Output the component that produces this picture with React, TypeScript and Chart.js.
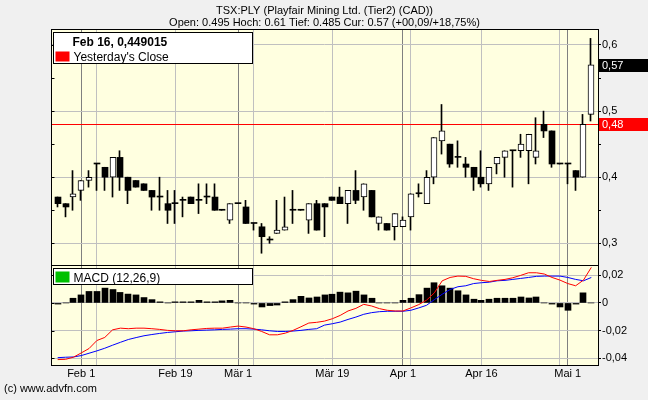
import React, { useEffect, useRef } from 'react';
import { Chart, registerables } from 'chart.js';

Chart.register(...registerables);

const FONT = '"Liberation Sans", Arial, Helvetica, sans-serif';

// Daily sessions from Mon 29 Jan to Fri 4 May 2007 (index 0 = Jan 29, Good Friday closed)
const opens = [
  0.37, 0.36, 0.37, 0.38, 0.395, 0.42, 0.415, 0.4, 0.43, 0.4,
  0.395, 0.39, 0.38, 0.37, 0.36, 0.36, 0.365, 0.37, 0.365, 0.37,
  0.37, 0.35, 0.335, 0.36, 0.355, 0.33, 0.325, 0.305, 0.315, 0.32,
  0.35, 0.35, 0.335, 0.36, 0.36, 0.37, 0.37, 0.36, 0.38, 0.37,
  0.38, 0.33, 0.33, 0.325, 0.325, 0.34, 0.375, 0.36, 0.4, 0.455,
  0.45, 0.43, 0.42, 0.415, 0.4, 0.39, 0.42, 0.43, 0.44, 0.44,
  0.44, 0.43, 0.48, 0.47, 0.42, 0.42, 0.41, 0.4, 0.495,
];
const highs = [
  0.37, 0.36, 0.41, 0.395, 0.41, 0.42, 0.415, 0.43, 0.44, 0.4,
  0.395, 0.39, 0.38, 0.4, 0.38, 0.38, 0.37, 0.37, 0.39, 0.39,
  0.39, 0.35, 0.36, 0.36, 0.365, 0.33, 0.33, 0.31, 0.365, 0.37,
  0.38, 0.35, 0.36, 0.365, 0.36, 0.37, 0.385, 0.38, 0.41, 0.39,
  0.38, 0.34, 0.33, 0.345, 0.34, 0.375, 0.39, 0.41, 0.46, 0.51,
  0.45, 0.455, 0.43, 0.415, 0.44, 0.415, 0.43, 0.44, 0.44, 0.465,
  0.465, 0.49, 0.5, 0.47, 0.42, 0.42, 0.41, 0.495, 0.61,
];
const lows = [
  0.355, 0.34, 0.35, 0.365, 0.385, 0.38, 0.38, 0.37, 0.38, 0.36,
  0.385, 0.38, 0.35, 0.35, 0.33, 0.33, 0.34, 0.36, 0.345, 0.36,
  0.35, 0.35, 0.33, 0.36, 0.33, 0.32, 0.285, 0.3, 0.315, 0.32,
  0.33, 0.35, 0.315, 0.32, 0.31, 0.365, 0.36, 0.33, 0.36, 0.35,
  0.34, 0.32, 0.32, 0.305, 0.325, 0.32, 0.37, 0.36, 0.39, 0.435,
  0.415, 0.415, 0.4, 0.38, 0.385, 0.38, 0.405, 0.4, 0.385, 0.43,
  0.39, 0.42, 0.46, 0.415, 0.42, 0.39, 0.38, 0.4, 0.485,
];
const closes = [
  0.36, 0.355, 0.375, 0.395, 0.4, 0.42, 0.4, 0.43, 0.4, 0.38,
  0.385, 0.38, 0.37, 0.37, 0.35, 0.36, 0.365, 0.36, 0.365, 0.37,
  0.35, 0.35, 0.36, 0.36, 0.33, 0.33, 0.31, 0.305, 0.32, 0.325,
  0.35, 0.35, 0.36, 0.32, 0.355, 0.365, 0.36, 0.38, 0.365, 0.39,
  0.34, 0.34, 0.32, 0.345, 0.335, 0.375, 0.375, 0.4, 0.46, 0.47,
  0.42, 0.43, 0.415, 0.4, 0.39, 0.415, 0.43, 0.44, 0.44, 0.45,
  0.465, 0.44, 0.47, 0.42, 0.42, 0.42, 0.4, 0.48, 0.57,
];

// MACD (12,26,9): MACD line, signal line and histogram
const macdValues = [
  -0.0409, -0.0407, -0.0392, -0.0361, -0.0329, -0.0271, -0.0249, -0.0194, -0.0182, -0.0186,
  -0.0182, -0.0182, -0.0186, -0.0191, -0.0198, -0.0201, -0.0201, -0.0194, -0.0189, -0.0184,
  -0.0182, -0.0182, -0.0174, -0.0167, -0.0174, -0.0186, -0.0206, -0.023, -0.023, -0.0218,
  -0.0198, -0.0172, -0.0145, -0.014, -0.0131, -0.0114, -0.009, -0.0058, -0.0039, -0.001,
  -0.0022, -0.0041, -0.0053, -0.0058, -0.0058, -0.0036, -0.0012, 0.002, 0.0073, 0.016,
  0.0184, 0.0194, 0.0192, 0.0175, 0.0163, 0.0155, 0.0163, 0.017, 0.0182, 0.0199,
  0.0218, 0.0218, 0.0209, 0.0184, 0.0165, 0.014, 0.0124, 0.0165, 0.0257,
];
const signalValues = [
  -0.0395, -0.0392, -0.039, -0.038, -0.0363, -0.0346, -0.0327, -0.0305, -0.0284, -0.0264,
  -0.025, -0.0237, -0.0228, -0.022, -0.0213, -0.0208, -0.0203, -0.0201, -0.0198, -0.0196,
  -0.0194, -0.0191, -0.0189, -0.0186, -0.0186, -0.0189, -0.0194, -0.0201, -0.0206, -0.0206,
  -0.0203, -0.0198, -0.0191, -0.0186, -0.016, -0.015, -0.0138, -0.0119, -0.0102, -0.0082,
  -0.007, -0.0063, -0.006, -0.006, -0.006, -0.0053, -0.0036, -0.0017, 0.0024, 0.0063,
  0.0097, 0.0117, 0.0124, 0.014, 0.0146, 0.015, 0.016, 0.0163, 0.017, 0.0177,
  0.0184, 0.0192, 0.0194, 0.0194, 0.0194, 0.0184, 0.017, 0.016, 0.0184,
];
const histValues = [
  -0.0008, 0, 0.0034, 0.0058, 0.0083, 0.0083, 0.0107, 0.0097, 0.0076, 0.0064,
  0.0058, 0.0039, 0.0024, 0.0008, 0, 0.0008, 0.0008, 0.0008, 0.0019, 0.0008,
  0.0008, 0.0015, 0.0019, 0, 0, -0.0008, -0.0029, -0.0019, -0.0015, 0.0008,
  0.0024, 0.0048, 0.0036, 0.0043, 0.0058, 0.0063, 0.0078, 0.0073, 0.0085, 0.0058,
  0.0034, 0, 0, 0, 0.0019, 0.0034, 0.006, 0.0107, 0.0146, 0.0124,
  0.0107, 0.0088, 0.0058, 0.0027, 0.0019, 0.0027, 0.0034, 0.0034, 0.0034, 0.0043,
  0.0036, 0.0043, 0, -0.0008, -0.0029, -0.0053, -0.0008, 0.0073, 0,
];

const yesterdayClose = 0.48;
const lastPrice = 0.57;

// Date axis: session index of each tick, its label, and which ones open a month
const dateTickIndex = [3, 5, 15, 23, 25, 35, 44, 45, 54, 64, 65];
const dateTickLabels = ['Feb 1', '', 'Feb 19', 'Mär 1', '', 'Mär 19', 'Apr 1', '', 'Apr 16', '', 'Mai 1'];
const monthStartIndex = [3, 23, 44, 65];

const titleText = 'TSX:PLY (Playfair Mining Ltd. (Tier2) (CAD))';
const quoteText = 'Open: 0.495 Hoch: 0.61 Tief: 0.485 Cur: 0.57 (+00,09/+18,75%)';
const cursorText = 'Feb 16, 0,449015';
const closeLegend = "Yesterday's Close";
const macdLegend = 'MACD (12,26,9)';
const copyrightText = '(c) www.advfn.com';

const fmt = (v: number, d: number) => v.toFixed(d).replace('.', ',');
const near = (v: number, step: number) => Math.abs(v / step - Math.round(v / step)) < 1e-6;

const chrome = {
  id: 'chrome',
  // keep candle bodies and wicks on whole pixels so they stay crisp
  afterDatasetsUpdate(chart: any) {
    chart.data.datasets.forEach((ds: any, di: number) => {
      if (ds.type !== 'bar') return;
      const meta = chart.getDatasetMeta(di);
      meta.data.forEach((el: any) => {
        const px = Math.round(el.x);
        el.x = ds.barThickness === 1 ? px - 0.5 : px;
      });
    });
  },
  beforeDraw(chart: any) {
    const { ctx, chartArea: a, width, height } = chart;
    ctx.save();
    ctx.fillStyle = '#f0f0f0';
    ctx.fillRect(0, 0, width, height);
    ctx.fillStyle = '#ffffe0';
    ctx.fillRect(a.left, a.top, a.right - a.left, a.bottom - a.top);
    ctx.restore();
  },
  beforeDatasetsDraw(chart: any) {
    const { ctx, chartArea: a } = chart;
    const y = Math.round(chart.scales.y.getPixelForValue(yesterdayClose)) + 0.5;
    ctx.save();
    ctx.strokeStyle = '#ff0000';
    ctx.lineWidth = 1;
    ctx.beginPath();
    ctx.moveTo(a.left, y);
    ctx.lineTo(a.right, y);
    ctx.stroke();
    ctx.restore();
  },
  afterDraw(chart: any) {
    const { ctx, chartArea: a } = chart;
    const py = chart.scales.y;
    const my = chart.scales.macd;
    const L = Math.round(a.left) + 0.5;
    const R = Math.round(a.right) + 0.5;
    const T = Math.round(py.top) + 0.5;
    const M = Math.round(py.bottom) + 0.5;
    const B = Math.round(my.bottom) + 0.5;
    ctx.save();
    ctx.strokeStyle = '#000';
    ctx.lineWidth = 1;
    ctx.strokeRect(L, T, R - L, M - T);
    ctx.strokeRect(L, M, R - L, B - M);

    // short inward ticks on the left frame
    ctx.beginPath();
    for (const s of [py, my]) {
      for (const t of s.ticks) {
        const yy = Math.round(s.getPixelForValue(t.value)) + 0.5;
        ctx.moveTo(L, yy);
        ctx.lineTo(L + 3, yy);
      }
    }
    ctx.stroke();

    // heading
    const cx = (a.left + a.right) / 2;
    ctx.fillStyle = '#000';
    ctx.font = `11px ${FONT}`;
    ctx.textAlign = 'center';
    ctx.textBaseline = 'alphabetic';
    ctx.fillText(titleText, cx, 14);
    ctx.fillText(quoteText, cx, 26);

    // value tags on the price axis
    const tag = (value: number, color: string) => {
      const yy = Math.round(py.getPixelForValue(value));
      ctx.fillStyle = color;
      ctx.fillRect(Math.round(a.right) + 1, yy - 6, chart.width - Math.round(a.right) - 1, 13);
      ctx.fillStyle = '#fff';
      ctx.textAlign = 'left';
      ctx.font = `11px ${FONT}`;
      ctx.fillText(fmt(value, 2), Math.round(a.right) + 4, yy + 4);
    };
    tag(lastPrice, '#000');
    tag(yesterdayClose, '#ff0000');

    // legend boxes
    const bx = Math.round(a.left) + 2.5;
    const bw = 199;
    let by = Math.round(py.top) + 3.5;
    ctx.fillStyle = '#fff';
    ctx.fillRect(bx, by, bw, 31);
    ctx.strokeStyle = '#000';
    ctx.strokeRect(bx, by, bw, 31);
    ctx.fillStyle = '#000';
    ctx.textAlign = 'left';
    ctx.font = `bold 12px ${FONT}`;
    ctx.fillText(cursorText, bx + 19, by + 13);
    ctx.fillStyle = '#ff0000';
    ctx.fillRect(bx + 2, by + 19, 14, 10);
    ctx.fillStyle = '#000';
    ctx.font = `12px ${FONT}`;
    ctx.fillText(closeLegend, bx + 20, by + 28);

    by = Math.round(my.top) + 3.5;
    ctx.fillStyle = '#fff';
    ctx.fillRect(bx, by, bw, 16);
    ctx.strokeRect(bx, by, bw, 16);
    ctx.fillStyle = '#00c000';
    ctx.fillRect(bx + 2, by + 3, 14, 11);
    ctx.fillStyle = '#000';
    ctx.fillText(macdLegend, bx + 20, by + 13);

    // footer
    ctx.font = `11px ${FONT}`;
    ctx.fillText(copyrightText, 4, 392);
    ctx.restore();
  },
};

export default function App() {
  const canvasRef = useRef<HTMLCanvasElement | null>(null);

  useEffect(() => {
    const canvas = canvasRef.current;
    if (!canvas) return;
    Chart.defaults.font.family = FONT;
    Chart.defaults.font.size = 11;
    Chart.defaults.color = '#000';

    const idx = closes.map((_, i) => i);
    const rising = idx.map((i) => closes[i] > opens[i]);

    const chart = new Chart(canvas, {
      type: 'bar',
      data: {
        datasets: [
          {
            type: 'line',
            label: 'MACD',
            yAxisID: 'macd',
            data: idx.map((i) => ({ x: i, y: macdValues[i] })),
            borderColor: '#ff0000',
            borderWidth: 1,
            pointRadius: 0,
            tension: 0,
            order: 0,
          },
          {
            type: 'line',
            label: 'Signal',
            yAxisID: 'macd',
            data: idx.map((i) => ({ x: i, y: signalValues[i] })),
            borderColor: '#0000ff',
            borderWidth: 1,
            pointRadius: 0,
            tension: 0,
            order: 1,
          },
          {
            type: 'bar',
            label: 'Histogram',
            yAxisID: 'macd',
            data: idx.map((i) => ({ x: i, y: histValues[i] })),
            backgroundColor: '#000',
            barThickness: 6,
            grouped: false,
            order: 2,
          },
          {
            type: 'bar',
            label: 'Body',
            yAxisID: 'y',
            data: idx.map((i) => ({ x: i, y: [opens[i], closes[i]] })),
            backgroundColor: rising.map((r) => (r ? '#ffffff' : '#000000')),
            borderColor: '#000',
            borderWidth: rising.map((r) => (r ? 1 : 0)),
            borderSkipped: false,
            barThickness: 6,
            minBarLength: 1,
            grouped: false,
            order: 3,
          },
          {
            type: 'bar',
            label: 'Range',
            yAxisID: 'y',
            data: idx.map((i) => ({ x: i, y: [lows[i], highs[i]] })),
            backgroundColor: '#000',
            barThickness: 1,
            grouped: false,
            order: 4,
          },
        ] as any,
      },
      options: {
        animation: false,
        responsive: false,
        events: [],
        layout: { padding: { left: 51, top: 29, right: 0, bottom: 0 } },
        plugins: {
          legend: { display: false },
          tooltip: { enabled: false },
          title: { display: false },
        },
        scales: {
          x: {
            type: 'linear',
            min: -0.85,
            max: 68.85,
            offset: false,
            afterBuildTicks: (s: any) => {
              s.ticks = dateTickIndex.map((v) => ({ value: v }));
            },
            afterFit: (s: any) => {
              s.height = 35;
            },
            grid: {
              offset: false,
              drawTicks: false,
              color: (c: any) => (monthStartIndex.includes(c.tick?.value) ? '#808080' : '#c0c0c0'),
            },
            border: { display: true, color: '#000' },
            ticks: {
              autoSkip: false,
              maxRotation: 0,
              padding: 2,
              color: '#000',
              font: { size: 11 },
              callback: (v: any) => {
                const k = dateTickIndex.indexOf(Number(v));
                return k >= 0 ? dateTickLabels[k] : '';
              },
            },
          },
          y: {
            type: 'linear',
            position: 'right',
            stack: 'panels',
            stackWeight: 236,
            min: 0.2672,
            max: 0.6242,
            beginAtZero: false,
            afterFit: (s: any) => {
              s.width = 50;
            },
            grid: {
              color: (c: any) => (c.tick && near(c.tick.value, 0.1) ? '#c0c0c0' : 'rgba(0,0,0,0)'),
              tickColor: '#000',
              tickLength: 3,
            },
            border: { display: true, color: '#000' },
            ticks: {
              stepSize: 0.05,
              includeBounds: false,
              padding: 1,
              color: '#000',
              font: { size: 11 },
              callback: (v: any) => (near(Number(v), 0.1) ? fmt(Number(v), 1) : ''),
            },
          },
          macd: {
            type: 'linear',
            position: 'right',
            stack: 'panels',
            stackWeight: 100,
            min: -0.0448,
            max: 0.0274,
            beginAtZero: false,
            afterFit: (s: any) => {
              s.width = 50;
            },
            grid: {
              color: (c: any) => (c.tick && near(c.tick.value, 0.02) ? '#c0c0c0' : 'rgba(0,0,0,0)'),
              tickColor: '#000',
              tickLength: 3,
            },
            border: { display: true, color: '#000' },
            ticks: {
              stepSize: 0.01,
              includeBounds: false,
              padding: 1,
              color: '#000',
              font: { size: 11 },
              callback: (v: any) => {
                const n = Number(v);
                if (!near(n, 0.02)) return '';
                return Math.abs(n) < 1e-9 ? '0' : fmt(n, 2);
              },
            },
          },
        },
      } as any,
      plugins: [chrome],
    });

    return () => chart.destroy();
  }, []);

  return (
    <div style={{ position: 'absolute', left: 0, top: 0, width: 648, height: 400, background: '#f0f0f0' }}>
      <canvas ref={canvasRef} width={648} height={400} style={{ display: 'block' }} />
    </div>
  );
}
